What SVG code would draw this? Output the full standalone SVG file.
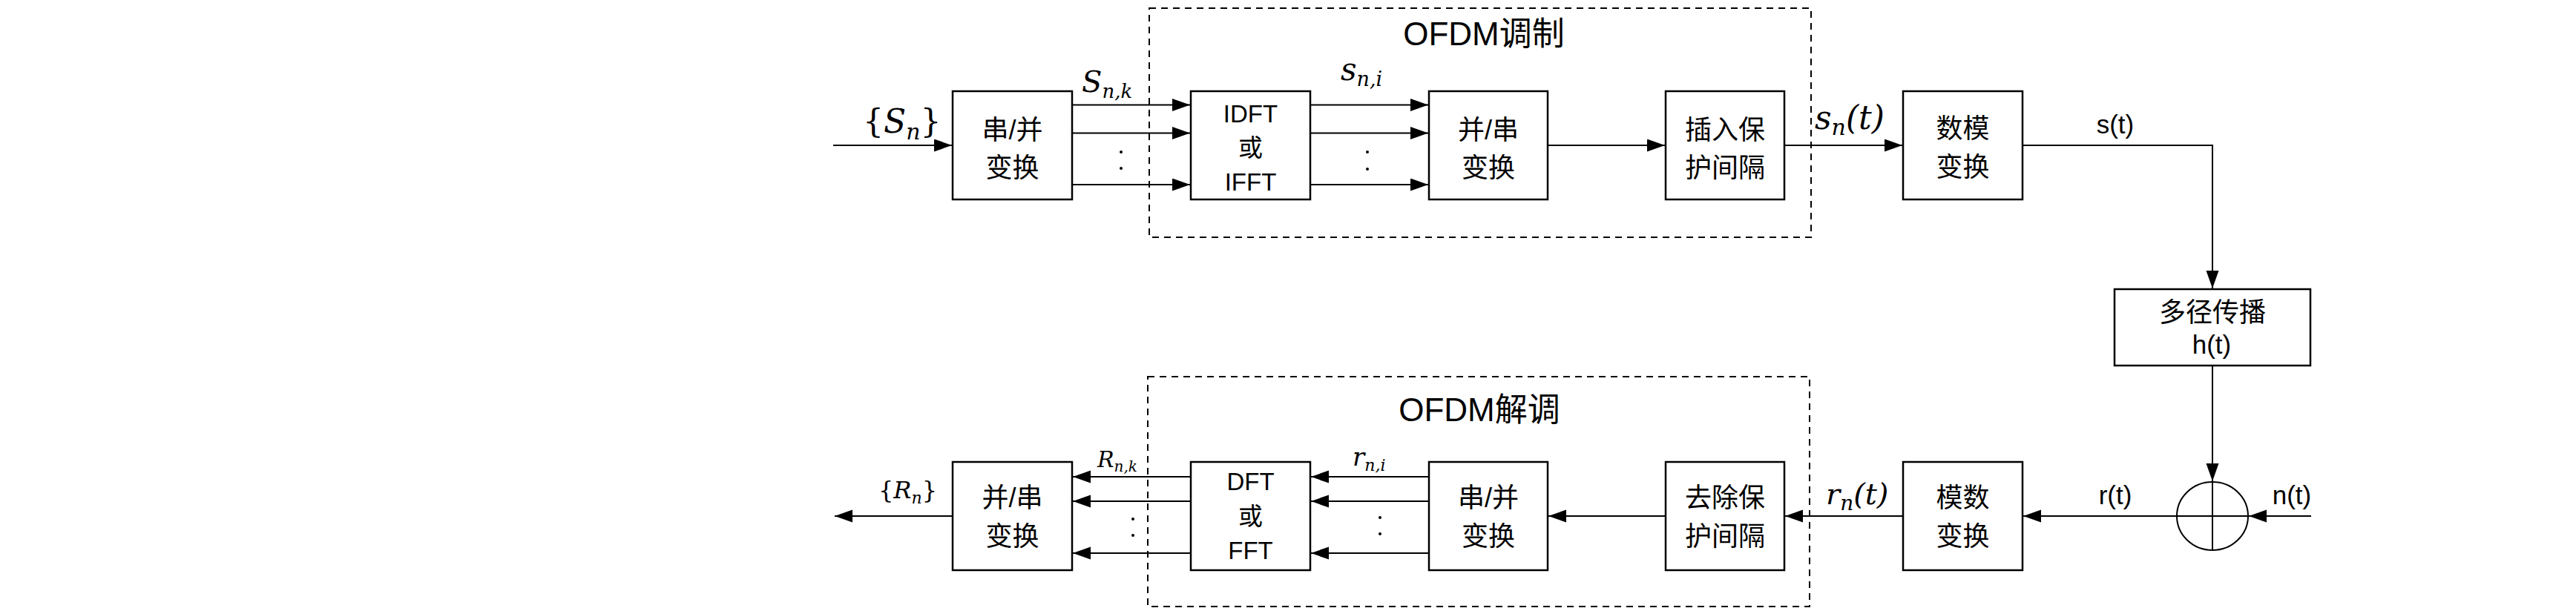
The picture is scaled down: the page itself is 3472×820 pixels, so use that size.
<svg xmlns="http://www.w3.org/2000/svg" width="3472" height="820" viewBox="0 0 3472 820">
<style>
.box{fill:#fff;stroke:#000;stroke-width:2.5}
.ln{fill:none;stroke:#000;stroke-width:2}
.dash{fill:none;stroke:#000;stroke-width:2;stroke-dasharray:9,7}
.cjk{font-family:"Liberation Sans","Noto Sans CJK SC",sans-serif;font-size:36px;fill:#000;text-anchor:middle}
.lat{font-family:"Liberation Sans","Noto Sans CJK SC",sans-serif;font-size:33px;fill:#000;text-anchor:middle}
.lbl{font-family:"Liberation Sans",sans-serif;font-size:35px;fill:#000;text-anchor:middle}
.title{font-family:"Liberation Sans","Noto Sans CJK SC",sans-serif;font-size:44px;fill:#000;text-anchor:middle}
.math{font-family:"DejaVu Serif",serif;fill:#000}
.it{font-style:italic}
</style>
<defs>
<marker id="ah" markerUnits="userSpaceOnUse" markerWidth="26" markerHeight="18" refX="24" refY="8.5" orient="auto">
<path d="M0,0 L24,8.5 L0,17 z" fill="#000"/>
</marker>
</defs>
<rect width="3472" height="820" fill="#fff"/>

<g id="mod-frame">
<rect class="dash" x="1549" y="11" width="892" height="309"/>
<text class="title" x="2000" y="61">OFDM调制</text>
</g>
<g id="demod-frame">
<rect class="dash" x="1547" y="508" width="892" height="310"/>
<text class="title" x="1994" y="568">OFDM解调</text>
</g>

<g id="connectors">
<line class="ln" x1="1123" y1="196" x2="1283" y2="196" marker-end="url(#ah)"/>
<line class="ln" x1="1445" y1="141.5" x2="1604" y2="141.5" marker-end="url(#ah)"/>
<line class="ln" x1="1445" y1="179.5" x2="1604" y2="179.5" marker-end="url(#ah)"/>
<line class="ln" x1="1445" y1="249" x2="1604" y2="249" marker-end="url(#ah)"/>
<line class="ln" x1="1766" y1="141.5" x2="1925" y2="141.5" marker-end="url(#ah)"/>
<line class="ln" x1="1766" y1="179.5" x2="1925" y2="179.5" marker-end="url(#ah)"/>
<line class="ln" x1="1766" y1="249" x2="1925" y2="249" marker-end="url(#ah)"/>
<line class="ln" x1="2086" y1="196" x2="2244" y2="196" marker-end="url(#ah)"/>
<line class="ln" x1="2405" y1="196" x2="2564" y2="196" marker-end="url(#ah)"/>
<polyline class="ln" points="2726,196 2982,196 2982,389" marker-end="url(#ah)"/>
<line class="ln" x1="2982" y1="493" x2="2982" y2="649" marker-end="url(#ah)"/>
<line class="ln" x1="3115" y1="696" x2="3031" y2="696" marker-end="url(#ah)"/>
<line class="ln" x1="2934" y1="696" x2="2727" y2="696" marker-end="url(#ah)"/>
<line class="ln" x1="2565" y1="696" x2="2406" y2="696" marker-end="url(#ah)"/>
<line class="ln" x1="2245" y1="696" x2="2087" y2="696" marker-end="url(#ah)"/>
<line class="ln" x1="1926" y1="643" x2="1767" y2="643" marker-end="url(#ah)"/>
<line class="ln" x1="1926" y1="676" x2="1767" y2="676" marker-end="url(#ah)"/>
<line class="ln" x1="1926" y1="746" x2="1767" y2="746" marker-end="url(#ah)"/>
<line class="ln" x1="1605" y1="643" x2="1446" y2="643" marker-end="url(#ah)"/>
<line class="ln" x1="1605" y1="676" x2="1446" y2="676" marker-end="url(#ah)"/>
<line class="ln" x1="1605" y1="746" x2="1446" y2="746" marker-end="url(#ah)"/>
<line class="ln" x1="1284" y1="696" x2="1125" y2="696" marker-end="url(#ah)"/>
<g fill="#000">
<circle cx="1511" cy="205" r="2"/><circle cx="1511" cy="227" r="2"/>
<circle cx="1843" cy="205" r="2"/><circle cx="1843" cy="228" r="2"/>
<circle cx="1527" cy="700" r="2"/><circle cx="1527" cy="722" r="2"/>
<circle cx="1860" cy="698" r="2"/><circle cx="1860" cy="720" r="2"/>
</g>
<text class="math" x="1163" y="179" font-size="44">{<tspan class="it">S</tspan><tspan class="it" font-size="30" dy="9">n</tspan><tspan dy="-9">}</tspan></text>
<text class="math it" x="1458" y="124" font-size="40">S<tspan font-size="26" dy="8">n,k</tspan></text>
<text class="math it" x="1807" y="108" font-size="42">s<tspan font-size="27" dy="8">n,i</tspan></text>
<text class="math it" x="2446" y="174" font-size="44">s<tspan font-size="30" dy="8">n</tspan><tspan dy="-8">(t)</tspan></text>
<text class="lbl" x="2851" y="180">s(t)</text>
<text class="lbl" x="2851" y="680">r(t)</text>
<text class="lbl" x="3089" y="680">n(t)</text>
<text class="math it" x="2461" y="680" font-size="40">r<tspan font-size="28" dy="8">n</tspan><tspan dy="-8">(t)</tspan></text>
<text class="math it" x="1823" y="628" font-size="34">r<tspan font-size="22" dy="7">n,i</tspan></text>
<text class="math it" x="1479" y="630" font-size="30">R<tspan font-size="20" dy="6">n,k</tspan></text>
<text class="math" x="1184" y="672" font-size="32">{<tspan class="it">R</tspan><tspan class="it" font-size="22" dy="7">n</tspan><tspan dy="-7">}</tspan></text>
</g>

<g id="sp1">
<rect class="box" x="1284" y="123" width="161" height="146"/>
<text class="cjk" x="1364.5" y="188">串/并</text>
<text class="cjk" x="1364.5" y="239">变换</text>
</g>
<g id="idft">
<rect class="box" x="1605" y="123" width="161" height="146"/>
<text class="lat" x="1685.5" y="165">IDFT</text>
<text class="lat" x="1685.5" y="211">或</text>
<text class="lat" x="1685.5" y="257">IFFT</text>
</g>
<g id="ps1">
<rect class="box" x="1926" y="123" width="160" height="146"/>
<text class="cjk" x="2006" y="188">并/串</text>
<text class="cjk" x="2006" y="239">变换</text>
</g>
<g id="addgi">
<rect class="box" x="2245" y="123" width="160" height="146"/>
<text class="cjk" x="2325" y="188">插入保</text>
<text class="cjk" x="2325" y="239">护间隔</text>
</g>
<g id="dac">
<rect class="box" x="2565" y="123" width="161" height="146"/>
<text class="cjk" x="2645.5" y="186">数模</text>
<text class="cjk" x="2645.5" y="238">变换</text>
</g>
<g id="channel">
<rect class="box" x="2850" y="390" width="264" height="103"/>
<text class="cjk" x="2982" y="434">多径传播</text>
<text class="lbl" x="2981" y="477">h(t)</text>
</g>
<g id="adder">
<ellipse class="ln" cx="2982" cy="696" rx="48" ry="46"/>
<line class="ln" x1="2934" y1="696" x2="3030" y2="696"/>
<line class="ln" x1="2982" y1="650" x2="2982" y2="742"/>
</g>
<g id="adc">
<rect class="box" x="2565" y="623" width="161" height="146"/>
<text class="cjk" x="2645.5" y="684">模数</text>
<text class="cjk" x="2645.5" y="736">变换</text>
</g>
<g id="remgi">
<rect class="box" x="2245" y="623" width="160" height="146"/>
<text class="cjk" x="2325" y="684">去除保</text>
<text class="cjk" x="2325" y="736">护间隔</text>
</g>
<g id="sp2">
<rect class="box" x="1926" y="623" width="160" height="146"/>
<text class="cjk" x="2006" y="684">串/并</text>
<text class="cjk" x="2006" y="736">变换</text>
</g>
<g id="dft">
<rect class="box" x="1605" y="623" width="161" height="146"/>
<text class="lat" x="1685.5" y="661">DFT</text>
<text class="lat" x="1685.5" y="708">或</text>
<text class="lat" x="1685.5" y="754">FFT</text>
</g>
<g id="ps2">
<rect class="box" x="1284" y="623" width="161" height="146"/>
<text class="cjk" x="1364.5" y="684">并/串</text>
<text class="cjk" x="1364.5" y="736">变换</text>
</g>
</svg>
